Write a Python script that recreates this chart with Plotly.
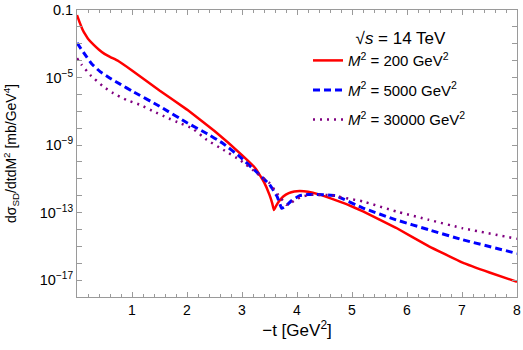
import plotly.graph_objects as go

# -t [GeV^2] and log10 of d(sigma_SD)/dt dM^2 [mb/GeV^4]
t_200 = [0, 0.05, 0.1, 0.15, 0.2, 0.3, 0.4, 0.5, 0.6, 0.75, 1.0, 1.5, 2.0, 2.5, 3.0,
         3.25, 3.4, 3.5, 3.55, 3.58, 3.62, 3.68, 3.75, 3.85, 3.95, 4.05, 4.2, 4.4,
         4.6, 4.9, 5.2, 5.8, 6.4, 7.0, 7.5, 8.0]
lg_200 = [-1.3, -1.75, -2.15, -2.45, -2.7, -3.05, -3.35, -3.6, -3.78, -4.02, -4.58,
          -5.77, -6.9, -8.17, -9.6, -10.4, -11.2, -11.95, -12.45, -12.85, -12.6,
          -12.3, -12.05, -11.85, -11.75, -11.72, -11.76, -11.92, -12.14, -12.5,
          -12.93, -13.9, -15.0, -15.95, -16.55, -17.1]

t_5000 = [0, 0.15, 0.27, 0.42, 0.6, 0.8, 1.0, 1.5, 2.0, 2.35, 2.65, 2.95, 3.25, 3.5,
          3.64, 3.72, 3.8, 3.9, 4.05, 4.2, 4.35, 4.7, 5.2, 5.8, 6.4, 7.0, 8.0]
lg_5000 = [-2.95, -3.66, -4.2, -4.65, -5.04, -5.42, -5.8, -6.7, -7.68, -8.3, -8.89,
           -9.66, -10.55, -11.33, -12.05, -12.75, -12.6, -12.3, -12.0, -11.93, -11.93,
           -12.0, -12.73, -13.43, -14.02, -14.6, -15.42]

t_30000 = [0, 0.085, 0.24, 0.48, 0.66, 0.9, 1.15, 1.4, 1.63, 1.87, 2.1, 2.36, 2.66,
           2.96, 3.27, 3.5, 3.66, 3.81, 3.9, 3.99, 4.1, 4.24, 4.6, 5.2, 5.8, 6.4,
           7.0, 8.0]
lg_30000 = [-3.86, -4.25, -4.85, -5.54, -5.93, -6.33, -6.62, -7.02, -7.37, -7.7, -8.02,
            -8.69, -9.28, -9.88, -10.66, -11.25, -11.95, -12.54, -12.4, -12.2, -12.05,
            -11.95, -11.97, -12.34, -12.93, -13.43, -13.92, -14.55]

x_ticks = [1, 2, 3, 4, 5, 6, 7, 8]
y_decades = list(range(-1, -19, -1))
y_labels = {-1: "0.1", -5: "10<sup>−5</sup>", -9: "10<sup>−9</sup>",
            -13: "10<sup>−13</sup>", -17: "10<sup>−17</sup>"}

series = [
    ("<i>M</i><sup>2</sup> = 200 GeV<sup>2</sup>", t_200, lg_200, "#ff0000", "solid", 2.5),
    ("<i>M</i><sup>2</sup> = 5000 GeV<sup>2</sup>", t_5000, lg_5000, "#0000ff", "7px,4px", 3),
    ("<i>M</i><sup>2</sup> = 30000 GeV<sup>2</sup>", t_30000, lg_30000, "#800080", "2px,5px", 2.5),
]

fig = go.Figure()
for name, tt, lg, col, dash, w in series:
    fig.add_trace(go.Scatter(
        x=tt, y=[10 ** v for v in lg], name=name, mode="lines",
        line=dict(color=col, dash=dash, width=w, shape="spline", smoothing=0.25),
        legendgroup=name,
    ))

frame = "#9a9a9a"
fig.update_layout(
    width=523, height=350,
    margin=dict(l=77, r=6, t=10, b=53),
    paper_bgcolor="white", plot_bgcolor="white",
    font=dict(family="Liberation Sans, Arial, sans-serif", size=14, color="black"),
    legend=dict(
        x=0.525, y=0.958, xanchor="left", yanchor="top",
        bgcolor="rgba(0,0,0,0)", font=dict(size=15),
        tracegroupgap=7,
        title=dict(text="√<i>s</i> = 14 TeV&nbsp;&nbsp;&nbsp;&nbsp;&nbsp;",
                   side="top right", font=dict(size=17)),
    ),
    xaxis=dict(
        range=[0, 8], tickvals=x_ticks, ticks="inside", ticklen=5, tickcolor=frame,
        showline=True, linecolor=frame, linewidth=1, mirror="ticks",
        showgrid=False, zeroline=False, automargin=False,
        minor=dict(dtick=0.2, ticks="inside", ticklen=3, tickcolor=frame, showgrid=False),
        title=dict(text="−t [GeV<sup>2</sup>]", standoff=6),
    ),
    yaxis=dict(
        type="log", range=[-18, -1],
        tickvals=[10 ** d for d in y_decades],
        ticktext=[y_labels.get(d, "") for d in y_decades],
        tickfont=dict(size=14.5),
        ticks="inside", ticklen=5, tickcolor=frame,
        showline=True, linecolor=frame, linewidth=1, mirror="ticks",
        showgrid=False, zeroline=False, automargin=False,
        title=dict(text="dσ<sub>SD</sub>/dtdM<sup>2</sup> [mb/GeV<sup>4</sup>]",
                   standoff=19, font=dict(size=14)),
    ),
)

# the page body has a default 8px margin; drop it so the figure fills the window
fig.write_html("out.html", config={"displayModeBar": False},
               post_script="document.body.style.margin='0';")
